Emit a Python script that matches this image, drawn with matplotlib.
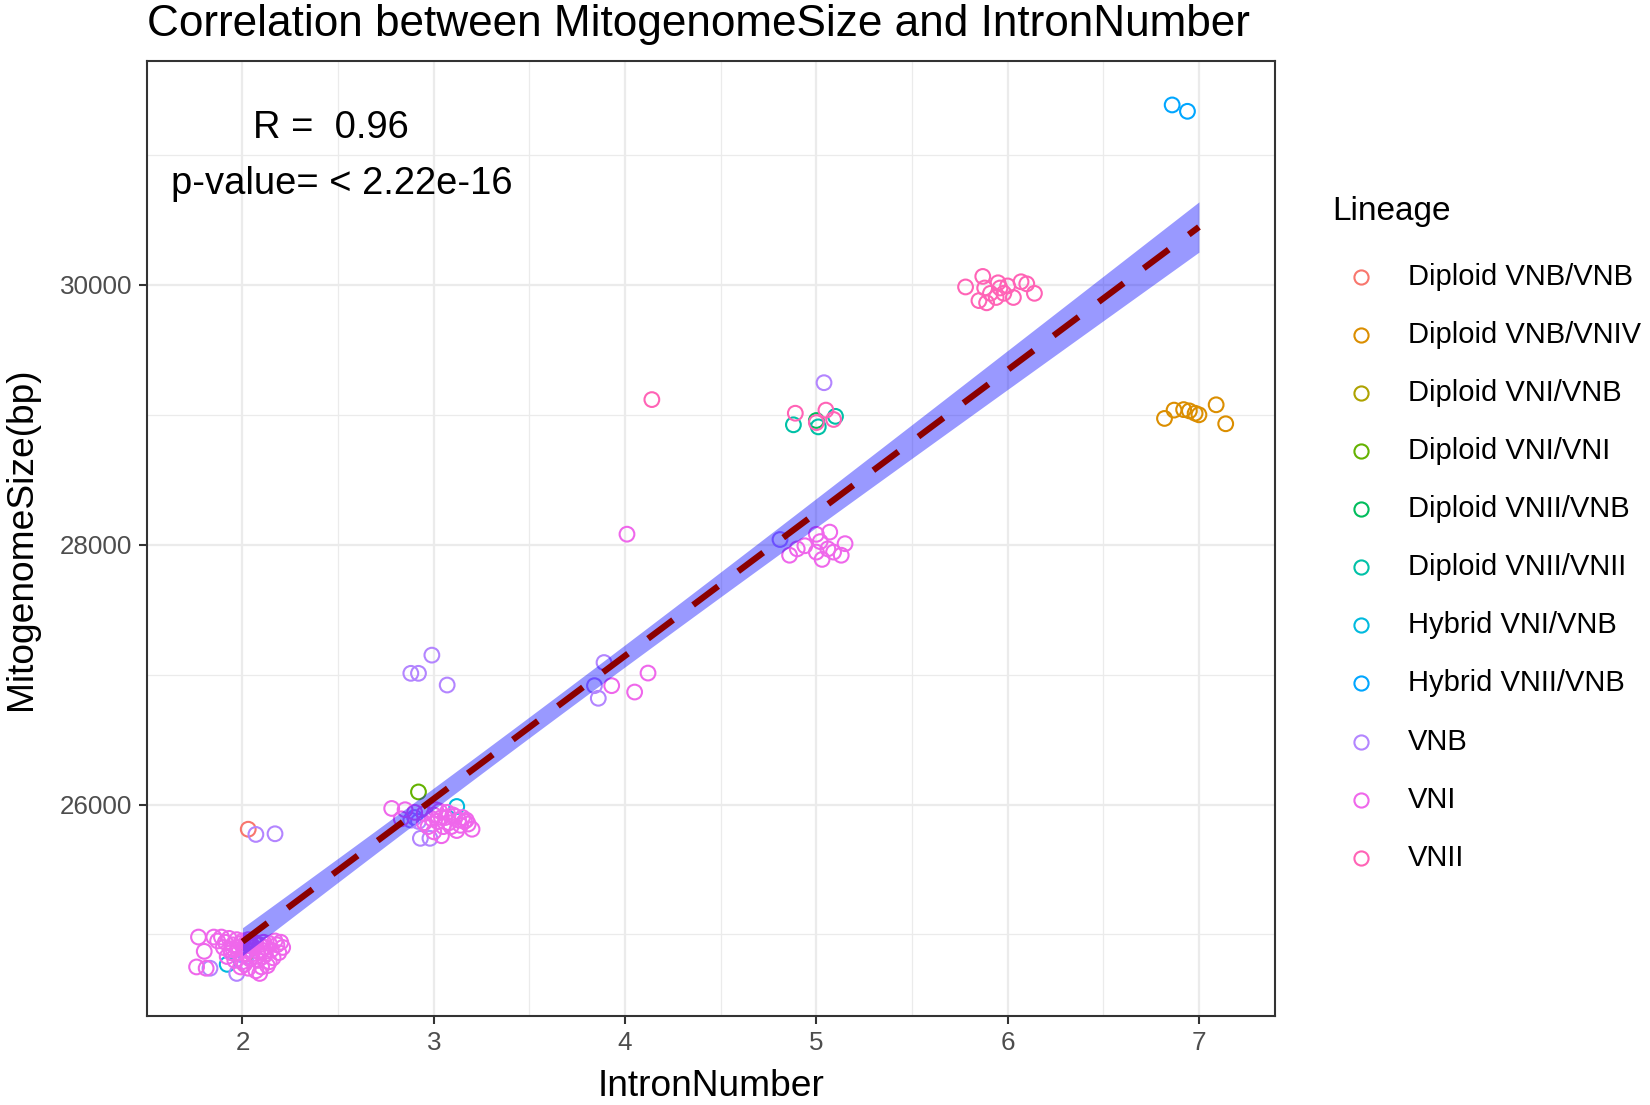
import numpy as np
import matplotlib
matplotlib.use("Agg")
import matplotlib.pyplot as plt
from matplotlib.lines import Line2D

plt.rcParams.update({
    "font.family": ["Liberation Sans", "DejaVu Sans"],
    "figure.dpi": 150,
})

# --- Data (jittered intron number, mitogenome size) per lineage ---
lineages = [
    "Diploid VNB/VNB", "Diploid VNB/VNIV", "Diploid VNI/VNB", "Diploid VNI/VNI",
    "Diploid VNII/VNB", "Diploid VNII/VNII", "Hybrid VNI/VNB", "Hybrid VNII/VNB",
    "VNB", "VNI", "VNII",
]
colors = ["#F8766D", "#DB8E00", "#AEA200", "#64B200", "#00BD5C", "#00C1A7",
          "#00BADE", "#00A6FF", "#B385FF", "#EF67EB", "#FF63B6"]

dip_vnb_vnb_x = [2.03]
dip_vnb_vnb_y = [25810]

dip_vnb_vniv_x = [6.82, 6.87, 6.92, 6.95, 6.98, 7.00, 7.09, 7.14]
dip_vnb_vniv_y = [28972, 29036, 29040, 29030, 29012, 29000, 29077, 28931]

dip_vni_vnb_x = [2.02]
dip_vni_vnb_y = [24850]

dip_vni_vni_x = [2.92]
dip_vni_vni_y = [26097]

dip_vnii_vnb_x = [5.00]
dip_vnii_vnb_y = [28956]

dip_vnii_vnii_x = [4.88, 5.01, 5.10]
dip_vnii_vnii_y = [28923, 28907, 28988]

hyb_vni_vnb_x = [1.92, 3.12]
hyb_vni_vnb_y = [24770, 25985]

hyb_vnii_vnb_x = [6.86, 6.94]
hyb_vnii_vnb_y = [31385, 31336]

vnb_x = [1.83, 1.97, 2.00, 2.02, 2.07, 2.17,
         2.88, 2.90, 2.92, 2.93, 2.98, 2.88, 2.92, 2.99, 3.07,
         3.84, 3.86, 3.89, 4.81, 5.04]
vnb_y = [24740, 24700, 24840, 24830, 25770, 25775,
         25880, 25900, 25870, 25740, 25740, 27010, 27010, 27150, 26920,
         26915, 26818, 27093, 28040, 29247]

vni_x = [1.77, 1.80, 1.76, 1.85, 1.89, 1.93, 1.97, 2.00, 2.03, 2.06,
         1.90, 1.94, 1.98, 2.02, 2.05, 2.08, 2.12, 2.15, 2.18, 2.21,
         2.19, 1.92, 1.96, 2.00, 2.04, 2.08, 2.11, 2.14, 2.16, 1.99,
         2.03, 2.07, 2.10, 2.13, 2.09, 1.81, 1.95, 2.01, 2.06, 2.10,
         1.87, 1.91, 1.95, 1.99, 2.04, 2.07, 2.11, 2.14, 2.17, 2.20,
         1.98, 2.02, 2.05, 2.09, 2.12, 1.94, 2.01,
         2.78, 2.85, 2.90, 2.95, 3.00, 3.03, 3.06, 3.10, 3.13, 3.15,
         3.18, 3.20, 3.02, 3.05, 3.08, 3.12, 2.97, 3.00, 3.04, 2.95,
         3.09, 3.14, 2.83, 3.16, 3.01, 3.07, 3.11, 2.99, 3.04, 3.17,
         3.93, 4.05, 4.12, 4.01,
         4.86, 4.90, 4.94, 5.00, 5.02, 5.06, 5.07, 5.09, 5.13, 5.15, 5.03, 5.00]
vni_y = [24980, 24870, 24750, 24980, 24980, 24970, 24960, 24950, 24960, 24940,
         24900, 24880, 24860, 24880, 24850, 24870, 24900, 24880, 24920, 24900,
         24860, 24830, 24800, 24790, 24810, 24800, 24830, 24790, 24820, 24750,
         24740, 24720, 24750, 24760, 24700, 24740, 24920, 24910, 24900, 24880,
         24950, 24940, 24890, 24930, 24920, 24930, 24940, 24930, 24950, 24940,
         24900, 24940, 24910, 24920, 24850, 24860, 24770,
         25970, 25960, 25940, 25930, 25920, 25950, 25900, 25920, 25880, 25900,
         25850, 25810, 25870, 25830, 25860, 25800, 25830, 25790, 25760, 25860,
         25830, 25840, 25890, 25870, 25960, 25940, 25910, 25890, 25900, 25880,
         26915, 26866, 27012, 28081,
         27919, 27968, 27992, 27943, 28024, 27968, 28097, 27943, 27919, 28008, 27887, 28080]

vnii_x = [4.14, 4.89, 5.05, 5.09, 5.00,
          5.78, 5.87, 5.85, 5.89, 5.91, 5.95, 5.98, 6.03, 6.07, 6.10,
          6.14, 5.88, 5.94, 5.96, 6.00]
vnii_y = [29117, 29012, 29036, 28964, 28940,
          29984, 30065, 29879, 29862, 29935, 30016, 29935, 29903, 30024, 30008,
          29935, 29976, 29903, 29976, 29992]

series_x = [dip_vnb_vnb_x, dip_vnb_vniv_x, dip_vni_vnb_x, dip_vni_vni_x,
            dip_vnii_vnb_x, dip_vnii_vnii_x, hyb_vni_vnb_x, hyb_vnii_vnb_x,
            vnb_x, vni_x, vnii_x]
series_y = [dip_vnb_vnb_y, dip_vnb_vniv_y, dip_vni_vnb_y, dip_vni_vni_y,
            dip_vnii_vnb_y, dip_vnii_vnii_y, hyb_vni_vnb_y, hyb_vnii_vnb_y,
            vnb_y, vni_y, vnii_y]

# --- Figure ---
W, H = 1568.0, 1050.0  # reference frame used for placing figure-level text
fig = plt.figure(figsize=(11, 7.3667), dpi=150)
ax = fig.add_axes([0.089, 0.0805, 0.684, 0.8645])

for name, c, xs, ys in zip(lineages, colors, series_x, series_y):
    ax.scatter(xs, ys, s=50, facecolors="none", edgecolors=c, linewidths=1.0, zorder=3)

# linear fit on integer intron counts (positions above are jittered)
all_x = np.round(np.concatenate([np.asarray(v, float) for v in series_x]))
all_y = np.concatenate([np.asarray(v, float) for v in series_y])
n = len(all_x)
b, a = np.polyfit(all_x, all_y, 1)
resid = all_y - (a + b * all_x)
s = np.sqrt(np.sum(resid ** 2) / (n - 2))
xbar = all_x.mean()
sxx = np.sum((all_x - xbar) ** 2)
xf = np.linspace(all_x.min(), all_x.max(), 100)
yf = a + b * xf
se = s * np.sqrt(1 / n + (xf - xbar) ** 2 / sxx)
ax.fill_between(xf, yf - 1.97 * se, yf + 1.97 * se, color="blue", alpha=0.4,
                linewidth=0, zorder=4)
ax.plot(xf, yf, color="#8B0000", linewidth=3.0, dashes=(5, 4), zorder=5)

ax.text(2.46, 31206, "R =  0.96", fontsize=18.3, ha="center", va="center")
ax.text(2.52, 30777, "p-value= < 2.22e-16", fontsize=18.3, ha="center", va="center")

ax.set_xlim(1.5, 7.4)
ax.set_ylim(24372, 31725)
ax.set_xticks([2, 3, 4, 5, 6, 7])
ax.set_yticks([26000, 28000, 30000])
ax.set_xticks([2.5, 3.5, 4.5, 5.5, 6.5], minor=True)
ax.set_yticks([25000, 27000, 29000, 31000], minor=True)
ax.grid(which="major", color="#EBEBEB", linewidth=1.1, zorder=0)
ax.grid(which="minor", color="#EBEBEB", linewidth=0.6, zorder=0)
ax.set_axisbelow(True)
ax.tick_params(which="major", length=4, width=1.0, color="#333333",
               labelsize=12.5, labelcolor="#4D4D4D", pad=3)
ax.tick_params(which="minor", length=0)
for sp in ax.spines.values():
    sp.set_color("#333333")
    sp.set_linewidth(1.0)

ax.set_xlabel("IntronNumber", fontsize=17.8, labelpad=7)
ax.set_ylabel("MitogenomeSize(bp)", fontsize=17.8, labelpad=10)
ax.set_title("Correlation between MitogenomeSize and IntronNumber",
             fontsize=21.2, loc="left", x=0.0, pad=12)

# legend drawn by hand, ggplot style
fig.text(1266 / W, 1 - 201 / H, "Lineage", fontsize=16, ha="left", va="center")
for i, (name, c) in enumerate(zip(lineages, colors)):
    yy = 1 - (263 + i * 55.2) / H
    fig.add_artist(Line2D([1293 / W], [yy], transform=fig.transFigure,
                          linestyle="none", marker="o", markersize=6.8,
                          markerfacecolor="none", markeredgecolor=c,
                          markeredgewidth=1.0))
    fig.text(1338 / W, yy, name, fontsize=14, ha="left", va="center")

fig.savefig("out.png", dpi=150)
